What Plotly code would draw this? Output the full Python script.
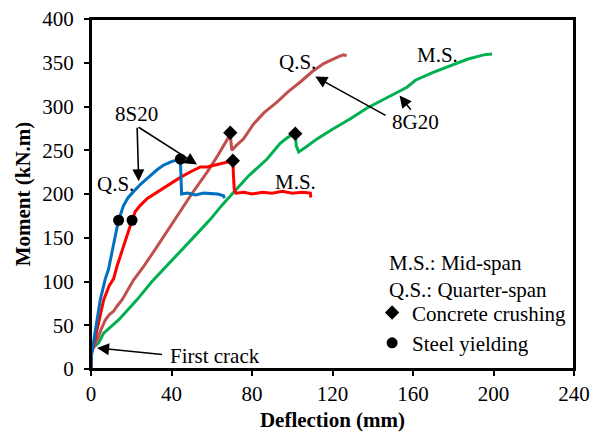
import plotly.graph_objects as go

# ---- data ----
s20_qs_x = [0, 0.3, 0.8, 2.5, 4.6, 7.1, 8.7, 11, 13.7, 16.2, 18.5, 21.2, 25, 29.5, 33, 36.1, 40, 44.4, 44.6, 45, 48, 52, 56, 60, 63, 65.9, 66.2]
s20_qs_y = [0, 18, 24, 50, 79, 103, 114, 140, 170, 187, 196, 203, 212, 221, 228, 233, 237, 240, 220, 200, 201, 199, 201, 200, 200, 198, 195]

s20_ms_x = [0, 0.3, 1, 3.5, 6.3, 9, 11.2, 13, 16, 20.4, 22, 24.5, 28, 32.8, 38, 44.4, 50, 54.3, 57.7, 63, 67, 70.5, 70.8, 71.2, 72, 76, 80, 85, 90, 95, 100, 105, 109, 109.2]
s20_ms_y = [0, 18, 24, 50, 79, 95, 103, 118, 140, 170, 180, 187, 195, 202, 210, 219, 226, 231, 231, 234, 236, 238, 220, 205, 201, 202, 200, 202, 201, 203, 201, 202, 201, 196]

g20_qs_x = [0, 0.3, 1, 3, 5, 7.1, 9, 11.2, 13, 15.4, 21.2, 26.1, 32, 38, 44.4, 50, 57.7, 63, 68.4, 69.2, 69.6, 70, 72, 75.8, 80.8, 86, 92.4, 98, 104, 110, 115.6, 120, 123, 125.5, 127]
g20_qs_y = [0, 20, 24, 33, 45, 56, 62, 66, 72, 79, 102, 117, 137, 158, 180, 200, 225, 244, 265, 270, 258, 250, 255, 263, 280, 293, 305, 317, 328, 340, 349, 354, 357, 359, 358]

g20_ms_x = [0, 0.3, 1, 3.8, 6.3, 10, 13.7, 18, 22.8, 30.3, 37, 45, 52, 59.3, 65, 70.9, 78, 87.5, 94, 98, 101.5, 102, 103.2, 107, 112.3, 120, 128.9, 137, 145, 153.7, 157, 161.2, 170, 178.6, 187, 195.1, 199.3]
g20_ms_y = [0, 20, 24, 30, 41, 49, 56, 67, 79, 100, 116, 136, 153, 171, 187, 202, 220, 240, 258, 265, 269, 255, 248, 254, 263, 274, 286, 298, 308, 318, 322, 330, 339, 347, 354, 359, 360]

crush_x = [69.2, 70.5, 101.5]
crush_y = [270, 238, 269]
yield_x = [13.7, 20.4, 44.4]
yield_y = [170, 170, 240]

x_ticks = [0, 40, 80, 120, 160, 200, 240]
y_ticks = [0, 50, 100, 150, 200, 250, 300, 350, 400]

FONT = "Liberation Serif"
FS = 21

fig = go.Figure()
fig.add_trace(go.Scatter(x=g20_ms_x, y=g20_ms_y, mode="lines", line=dict(color="#00B050", width=3), showlegend=False))
fig.add_trace(go.Scatter(x=g20_qs_x, y=g20_qs_y, mode="lines", line=dict(color="#C0504D", width=3), showlegend=False))
fig.add_trace(go.Scatter(x=s20_ms_x, y=s20_ms_y, mode="lines", line=dict(color="#FF0000", width=3), showlegend=False))
fig.add_trace(go.Scatter(x=s20_qs_x, y=s20_qs_y, mode="lines", line=dict(color="#0070C0", width=3), showlegend=False))
fig.add_trace(go.Scatter(x=crush_x, y=crush_y, mode="markers", name="Concrete crushing",
                         marker=dict(symbol="diamond", size=11, color="black")))
fig.add_trace(go.Scatter(x=yield_x, y=yield_y, mode="markers", name="Steel yielding",
                         marker=dict(symbol="circle", size=11, color="black")))

def label(x, y, t, xanchor="center"):
    fig.add_annotation(x=x, y=y, text=t, showarrow=False, xanchor=xanchor,
                       font=dict(family=FONT, size=FS, color="black"))

def arrow(x0, y0, x1, y1):
    fig.add_annotation(x=x1, y=y1, ax=x0, ay=y0, axref="x", ayref="y", text="",
                       showarrow=True, arrowhead=2, arrowsize=1.5, arrowwidth=1.6,
                       arrowcolor="black", standoff=0, startstandoff=0)

label(22.8, 292, "8S20")
arrow(22.9, 277.4, 23.7, 214.5)
arrow(22.9, 277.4, 52.7, 233.6)
label(12.1, 212, "Q.S.")
label(101.5, 214, "M.S.")
label(102.5, 351.4, "Q.S.")
label(172, 359.4, "M.S.")
label(161.1, 282.8, "8G20")
arrow(147.1, 288.9, 111.4, 334.2)
arrow(159.5, 294.6, 153.3, 312.5)
label(61.8, 15.2, "First crack")
arrow(36.1, 16.4, 3, 24)
label(147.2, 121.6, "M.S.: Mid-span", "left")
label(147.2, 90.7, "Q.S.: Quarter-span", "left")

# plot frame
fig.add_shape(type="rect", xref="paper", yref="paper", x0=0, y0=0, x1=1, y1=1,
              line=dict(color="black", width=2), layer="above")

axis_common = dict(showline=True, linewidth=2, linecolor="black", mirror=True,
                   ticks="outside", ticklen=5, tickwidth=2, tickcolor="black",
                   showgrid=False, zeroline=False, automargin=False,
                   ticklabeloverflow="allow",
                   tickfont=dict(family=FONT, size=FS, color="black"))

fig.update_xaxes(range=[0, 240], tickvals=x_ticks, ticktext=[str(v) for v in x_ticks],
                 title=dict(text="Deflection (mm)", font=dict(family=FONT, size=FS, color="black", weight="bold"), standoff=7),
                 **axis_common)
fig.update_yaxes(range=[0, 400], tickvals=y_ticks, ticktext=[str(v) for v in y_ticks],
                 ticklabelstandoff=6,
                 title=dict(text="Moment (kN.m)", font=dict(family=FONT, size=FS, color="black", weight="bold"), standoff=6),
                 **axis_common)

fig.update_layout(
    width=590, height=435,
    margin=dict(l=91, r=16, t=19, b=66),
    plot_bgcolor="white", paper_bgcolor="white",
    font=dict(family=FONT, size=FS, color="black"),
    legend=dict(x=0.582, y=0.219, xanchor="left", yanchor="top", bgcolor="rgba(0,0,0,0)",
                font=dict(family=FONT, size=FS, color="black"), itemwidth=30, tracegroupgap=0),
)

fig.write_html("out.html", config={"displayModeBar": False},
               post_script="document.body.style.margin='0';document.body.style.padding='0';document.body.style.overflow='hidden';")
